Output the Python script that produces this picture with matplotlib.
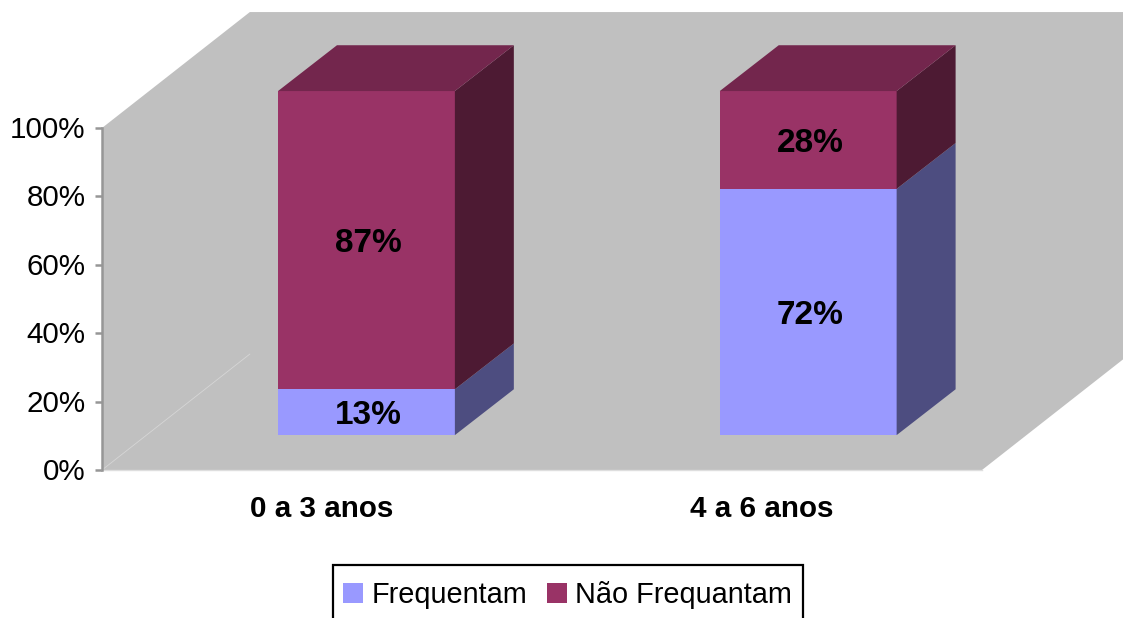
import matplotlib
matplotlib.use("Agg")
import matplotlib.pyplot as plt
from matplotlib.patches import Patch, Rectangle
from matplotlib.transforms import ScaledTranslation

plt.rcParams['font.family'] = ['Liberation Sans', 'DejaVu Sans']

categories = ['0 a 3 anos', '4 a 6 anos']
# heights as measured on the picture, labels as printed on the bars
frequentam = [13.4, 72.0]
nao_frequentam = [87.2, 28.6]
frequentam_labels = ['13%', '72%']
nao_frequentam_labels = ['87%', '28%']
series_names = ['Frequentam', 'Não Frequantam']
y_ticks = [0, 20, 40, 60, 80, 100]

# colours: front, side, top
blue = ['#9999FF', '#4D4D80', '#73738F']
purple = ['#993366', '#4D1A33', '#73264D']
wall = '#C0C0C0'

# pseudo 3d depth, in axis units (1 unit x = 440 px, 1 unit y = 3.42 px)
wall_dx = 0.336
wall_dy = 33.9
bar_dx = 0.134
bar_dy = 13.4
shift_x = 0.101
shift_y = 10.2
bar_w = 0.402

fig = plt.figure(figsize=(11.23, 6.18), dpi=100)
ax = fig.add_axes([102 / 1123, (618 - 470) / 618, 880 / 1123, 342 / 618])
ax.set_xlim(0, 2)
ax.set_ylim(0, 100)
ax.patch.set_visible(False)

# back wall and floor as one grey shape
ax.fill([0, wall_dx, 2 + wall_dx, 2 + wall_dx, 2, 0],
        [100, 100 + wall_dy, 100 + wall_dy, wall_dy, 0, 0],
        color=wall, lw=0, clip_on=False, zorder=1)
ax.plot([0, wall_dx], [0, wall_dy], color='#D6D6D6', lw=0.6, clip_on=False, zorder=2)
ax.plot([0, 2], [0, 0], color='#DEDEDE', lw=1.0, clip_on=False, zorder=2)


def draw_segment(x0, y0, y1, cols):
    x1 = x0 + bar_w
    ax.fill([x0, x1, x1, x0], [y0, y0, y1, y1], color=cols[0], lw=0, clip_on=False, zorder=3)
    ax.fill([x1, x1 + bar_dx, x1 + bar_dx, x1], [y0, y0 + bar_dy, y1 + bar_dy, y1],
            color=cols[1], lw=0, clip_on=False, zorder=3)


for i in range(len(categories)):
    x0 = i + 0.5 + shift_x - bar_w / 2
    if i == 1:
        x0 = x0 + 0.004
    y0 = shift_y
    y1 = y0 + frequentam[i]
    y2 = y1 + nao_frequentam[i]
    draw_segment(x0, y0, y1, blue)
    draw_segment(x0, y1, y2, purple)
    # top of the bar
    ax.fill([x0, x0 + bar_w, x0 + bar_w + bar_dx, x0 + bar_dx],
            [y2, y2, y2 + bar_dy, y2 + bar_dy],
            color=purple[2], lw=0, clip_on=False, zorder=3)
    cx = x0 + bar_w / 2
    ax.text(cx + 0.005, (y0 + y1) / 2 - 1.0, frequentam_labels[i], ha='center', va='center',
            fontsize=24, fontweight='bold', color='black', zorder=4)
    ax.text(cx + 0.005, (y1 + y2) / 2 - 1.0, nao_frequentam_labels[i], ha='center', va='center',
            fontsize=24, fontweight='bold', color='black', zorder=4)

for s in ['top', 'right', 'bottom']:
    ax.spines[s].set_visible(False)
ax.spines['left'].set_color('#969696')
ax.spines['left'].set_linewidth(1.8)
ax.spines['left'].set_zorder(5)

ax.set_yticks(y_ticks)
ax.set_yticklabels(['%d%%' % v for v in y_ticks], fontsize=21.3, color='black')
ax.tick_params(axis='y', length=5, width=1.8, color='#969696', pad=7)
up = ScaledTranslation(0, 1.0 / 100, fig.dpi_scale_trans)
for lab in ax.get_yticklabels():
    lab.set_verticalalignment('center_baseline')
    lab.set_transform(lab.get_transform() + up)
ax.set_xticks([0.5, 1.5])
ax.set_xticklabels(categories, fontsize=21.3, fontweight='bold', color='black')
ax.tick_params(axis='x', length=0, pad=18)

handles = [Patch(facecolor=blue[0], lw=0), Patch(facecolor=purple[0], lw=0)]
fig.legend(handles, series_names, ncols=2, fontsize=20.8, loc='center',
           bbox_to_anchor=(567.5 / 1123, (618 - 595) / 618),
           frameon=False, handlelength=0.69, handleheight=0.69, handletextpad=0.28,
           columnspacing=0.69, borderpad=0, borderaxespad=0)
# legend frame runs off the bottom of the picture
fig.add_artist(Rectangle((332.5 / 1123, -8 / 618), 470 / 1123, 61 / 618, transform=fig.transFigure,
                         facecolor='none', edgecolor='black', lw=1.6))

fig.savefig('out.png', dpi=100)
